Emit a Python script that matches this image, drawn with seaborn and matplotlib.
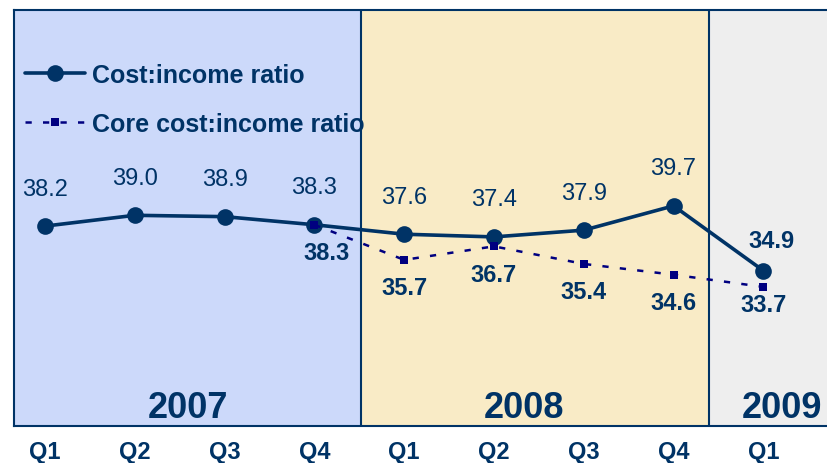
import matplotlib
matplotlib.use("Agg")
import numpy as np
import pandas as pd
import seaborn as sns
import matplotlib.pyplot as plt

quarters = ["Q1", "Q2", "Q3", "Q4", "Q1", "Q2", "Q3", "Q4", "Q1"]
years = ["2007", "2008", "2009"]
cost_ratio = [38.2, 39.0, 38.9, 38.3, 37.6, 37.4, 37.9, 39.7, 34.9]
core_ratio = [np.nan, np.nan, np.nan, 38.3, 35.7, 36.7, 35.4, 34.6, 33.7]

sns.set_style("white")
plt.rcParams["font.family"] = ["Liberation Sans", "DejaVu Sans"]

NAVY = "#003366"
CORE = "#000080"

fig = plt.figure(figsize=(8.28, 4.64), dpi=100)
ax = fig.add_axes([14 / 828, 1 - 427 / 464, 1 - 14 / 828, 416 / 464])

xpos = np.arange(len(quarters))
df = pd.DataFrame({"x": xpos, "cost": cost_ratio, "core": core_ratio})

# background year bands
ax.axvspan(-0.345, 3.52, color="#CCD9FA", zorder=0, lw=0)
ax.axvspan(3.52, 7.39, color="#F9EBC6", zorder=0, lw=0)
ax.axvspan(7.39, 8.72, color="#EEEEEE", zorder=0, lw=0)
for xv in (3.52, 7.39):
    ax.axvline(xv, color=NAVY, lw=1.5, zorder=1)

sns.lineplot(data=df, x="x", y="cost", ax=ax, color=NAVY, lw=2.6, marker="o",
             markersize=12, markeredgewidth=0, label="Cost:income ratio", zorder=4)
sns.lineplot(data=df.dropna(), x="x", y="core", ax=ax, color=CORE, lw=1.8,
             linestyle=(0, (2.5, 4.5)), marker="s", markersize=6, markeredgewidth=0,
             label="Core cost:income ratio", zorder=5)

# data labels
for i, v in enumerate(cost_ratio):
    bold = (i == len(cost_ratio) - 1)
    dx = 6 if bold else 0
    dy = 22 if bold else 27
    ax.annotate(f"{v:.1f}", (xpos[i], v), xytext=(dx, dy), textcoords="offset points",
                ha="center", va="center", fontsize=17, color=NAVY,
                fontweight="bold" if bold else "normal", zorder=6)
for i, v in enumerate(core_ratio):
    if np.isnan(v):
        continue
    dx = 9 if i == 3 else 0
    dy = -13 if i == len(core_ratio) - 1 else -20
    ax.annotate(f"{v:.1f}", (xpos[i], v), xytext=(dx, dy), textcoords="offset points",
                ha="center", va="center", fontsize=17, color=NAVY,
                fontweight="bold", zorder=6)

# year labels
for label, xc in zip(years, [1.59, 5.33, 8.21]):
    ax.text(xc, 0.022, label, transform=ax.get_xaxis_transform(), ha="center",
            va="baseline", fontsize=26, fontweight="bold", color=NAVY, zorder=6)

ax.set_xlim(-0.345, 8.72)
ax.set_ylim(23.4, 54.2)
ax.set_xticks(xpos)
ax.set_xticklabels(quarters, fontsize=17, fontweight="bold", color=NAVY)
ax.set_yticks([])
ax.tick_params(axis="x", length=0, pad=10)
ax.set_xlabel("")
ax.set_ylabel("")
for s in ax.spines.values():
    s.set_color(NAVY)
    s.set_linewidth(1.5)
ax.spines["right"].set_visible(False)

leg = ax.legend(loc="upper left", bbox_to_anchor=(25 / 828, 1 - 64 / 464),
                bbox_transform=fig.transFigure, frameon=False, borderpad=0,
                borderaxespad=0, fontsize=18, handlelength=2.4, handletextpad=0.3,
                labelspacing=1.0)
for t in leg.get_texts():
    t.set_color(NAVY)
    t.set_fontweight("bold")

fig.savefig("out.png", dpi=100)
